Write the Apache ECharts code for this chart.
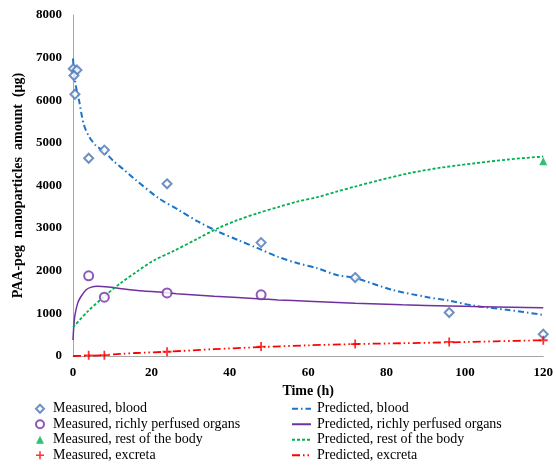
<!DOCTYPE html>
<html>
<head>
<meta charset="utf-8">
<script src="https://cdn.jsdelivr.net/npm/echarts@6/dist/echarts.min.js"></script>
<style>
html,body{margin:0;padding:0;background:#fff;}
#c{width:556px;height:472px;}
</style>
</head>
<body>
<div id="c"></div>
<script>
// ---- Data (time in h, amount in µg) ----
const xTicks = [0, 20, 40, 60, 80, 100, 120];
const yTicks = [0, 1000, 2000, 3000, 4000, 5000, 6000, 7000, 8000];

const bloodMeasT = [0.083, 1, 0.25, 0.5, 4, 8, 24, 48, 72, 96, 120];
const bloodMeasV = [6740, 6710, 6580, 6140, 4640, 4830, 4040, 2660, 1840, 1020, 510];

const rpoMeasT = [4, 8, 24, 48];
const rpoMeasV = [1880, 1380, 1480, 1435];

const restMeasT = [120];
const restMeasV = [4570];

const excMeasT = [4, 8, 24, 48, 72, 96, 120];
const excMeasV = [15, 20, 100, 220, 280, 330, 370];

const bloodPredT = [0, 0.3, 0.76, 1.6, 2.2, 2.9, 4.1, 5.8, 7.9, 10.5, 13, 15.5, 21.9, 26.9, 32, 37, 42.1, 47.1, 52.2, 57.2, 62.3, 67.3, 72, 81.5, 89.9, 95.8, 102.7, 111.1, 120];
const bloodPredV = [6980, 6620, 6320, 5970, 5660, 5390, 5150, 4940, 4800, 4560, 4370, 4170, 3700, 3430, 3150, 2920, 2720, 2530, 2330, 2180, 2060, 1900, 1830, 1550, 1390, 1300, 1175, 1080, 965];

const rpoPredT = [0, 0.2, 0.5, 1.2, 2, 3.3, 4.5, 6.2, 9.6, 13, 18, 24, 26.4, 36, 48, 52.2, 60, 72, 84, 96, 104, 112, 120];
const rpoPredV = [375, 690, 960, 1240, 1390, 1550, 1610, 1636, 1612, 1573, 1526, 1486, 1460, 1400, 1340, 1315, 1285, 1237, 1200, 1174, 1158, 1145, 1134];

const restPredT = [0, 3.7, 7.9, 12.1, 16.3, 20.5, 25.6, 32, 37, 42.1, 47.1, 52.2, 57.2, 62.3, 67.3, 72, 78, 85.8, 94, 102.7, 111, 120];
const restPredV = [674, 1040, 1392, 1706, 1979, 2237, 2460, 2763, 2998, 3192, 3349, 3490, 3622, 3725, 3857, 3975, 4120, 4289, 4420, 4523, 4610, 4680];

const excPredT = [0, 8, 12, 16, 24, 36, 48, 60, 72, 84, 96, 108, 120];
const excPredV = [0, 20, 50, 70, 100, 160, 210, 250, 280, 300, 320, 345, 370];

const names = {
  bm: 'Measured, blood',
  rm: 'Measured, richly perfused organs',
  tm: 'Measured, rest of the body',
  em: 'Measured, excreta',
  bp: 'Predicted, blood',
  rp: 'Predicted, richly perfused organs',
  tp: 'Predicted, rest of the body',
  ep: 'Predicted, excreta'
};

const zip = (a, b) => a.map((v, i) => [v, b[i]]);

const FONT = '"Liberation Serif", "Times New Roman", serif';
const plusPath = 'path://M4,0h2v4h4v2h-4v4h-2v-4h-4v-2h4z';

const chart = echarts.init(document.getElementById('c'), null, {renderer: 'canvas'});

const legendText = {fontFamily: FONT, fontSize: 14, color: '#000', lineHeight: 15.5};

chart.setOption({
  animation: false,
  backgroundColor: '#fff',
  grid: {left: 73, right: 8, top: 15, bottom: 116, containLabel: false},
  xAxis: {
    type: 'value', min: 0, max: 120, interval: 20,
    name: 'Time (h)', nameLocation: 'middle', nameGap: 28,
    nameTextStyle: {fontFamily: FONT, fontSize: 14, fontWeight: 'bold', color: '#000'},
    axisLine: {lineStyle: {color: '#A6A6A6', width: 1}},
    axisTick: {show: false},
    splitLine: {show: false},
    axisLabel: {fontFamily: FONT, fontSize: 13, fontWeight: 'bold', color: '#000', margin: 10,
      customValues: xTicks, formatter: v => String(v)}
  },
  yAxis: {
    type: 'value', min: 0, max: 8000, interval: 1000,
    name: 'PAA-peg  nanoparticles  amount  (µg)', nameLocation: 'middle', nameGap: 46,
    nameTextStyle: {fontFamily: FONT, fontSize: 14, fontWeight: 'bold', color: '#000'},
    axisLine: {show: true, lineStyle: {color: '#A6A6A6', width: 1}},
    axisTick: {show: false},
    splitLine: {show: false},
    axisLabel: {fontFamily: FONT, fontSize: 13, fontWeight: 'bold', color: '#000', margin: 11,
      customValues: yTicks, formatter: v => String(v)}
  },
  legend: [
    {
      data: [names.bm, names.rm, names.tm, names.em],
      orient: 'vertical', left: 35, top: 401, padding: 0, height: 70,
      itemWidth: 8, itemHeight: 8, itemGap: 0, symbolKeepAspect: true,
      selectedMode: false,
      textStyle: Object.assign({padding: [0, 0, 0, 4]}, legendText)
    },
    {
      data: [names.bp, names.rp, names.tp, names.ep],
      orient: 'vertical', left: 291, top: 401, padding: 0, height: 70,
      itemWidth: 19, itemHeight: 8, itemGap: 0,
      selectedMode: false,
      itemStyle: {color: 'rgba(0,0,0,0)', borderWidth: 0, opacity: 0},
      textStyle: Object.assign({padding: [0, 0, 0, 1]}, legendText)
    }
  ],
  series: [
    {
      name: names.bp, type: 'line', data: zip(bloodPredT, bloodPredV),
      symbol: 'none', smooth: 0.3, z: 2,
      lineStyle: {color: '#1A75C9', width: 2, type: [6, 3, 1.5, 3]},
      itemStyle: {color: '#1A75C9'}
    },
    {
      name: names.rp, type: 'line', data: zip(rpoPredT, rpoPredV),
      symbol: 'none', smooth: 0.3, z: 2,
      lineStyle: {color: '#7030A0', width: 1.5},
      itemStyle: {color: '#7030A0'}
    },
    {
      name: names.tp, type: 'line', data: zip(restPredT, restPredV),
      symbol: 'none', smooth: 0.3, z: 2,
      lineStyle: {color: '#00B050', width: 1.8, type: [3, 2]},
      itemStyle: {color: '#00B050'}
    },
    {
      name: names.ep, type: 'line', data: zip(excPredT, excPredV),
      symbol: 'none', smooth: 0.3, z: 2,
      lineStyle: {color: '#FF0000', width: 1.8, type: [8, 3, 1.5, 3, 1.5, 3]},
      itemStyle: {color: '#FF0000'}
    },
    {
      name: names.bm, type: 'scatter', data: zip(bloodMeasT, bloodMeasV),
      symbol: 'diamond', symbolSize: 9, z: 3,
      itemStyle: {color: '#fff', borderColor: '#4A76B6', borderWidth: 2}
    },
    {
      name: names.rm, type: 'scatter', data: zip(rpoMeasT, rpoMeasV),
      symbol: 'circle', symbolSize: 9, z: 3,
      itemStyle: {color: '#fff', borderColor: '#7030A0', borderWidth: 2}
    },
    {
      name: names.tm, type: 'scatter', data: zip(restMeasT, restMeasV),
      symbol: 'triangle', symbolSize: 8, z: 3,
      itemStyle: {color: '#00B050'}
    },
    {
      name: names.em, type: 'scatter', data: zip(excMeasT, excMeasV),
      symbol: plusPath, symbolSize: 9, z: 3,
      itemStyle: {color: '#FF0000'}
    }
  ]
});
</script>
</body>
</html>
